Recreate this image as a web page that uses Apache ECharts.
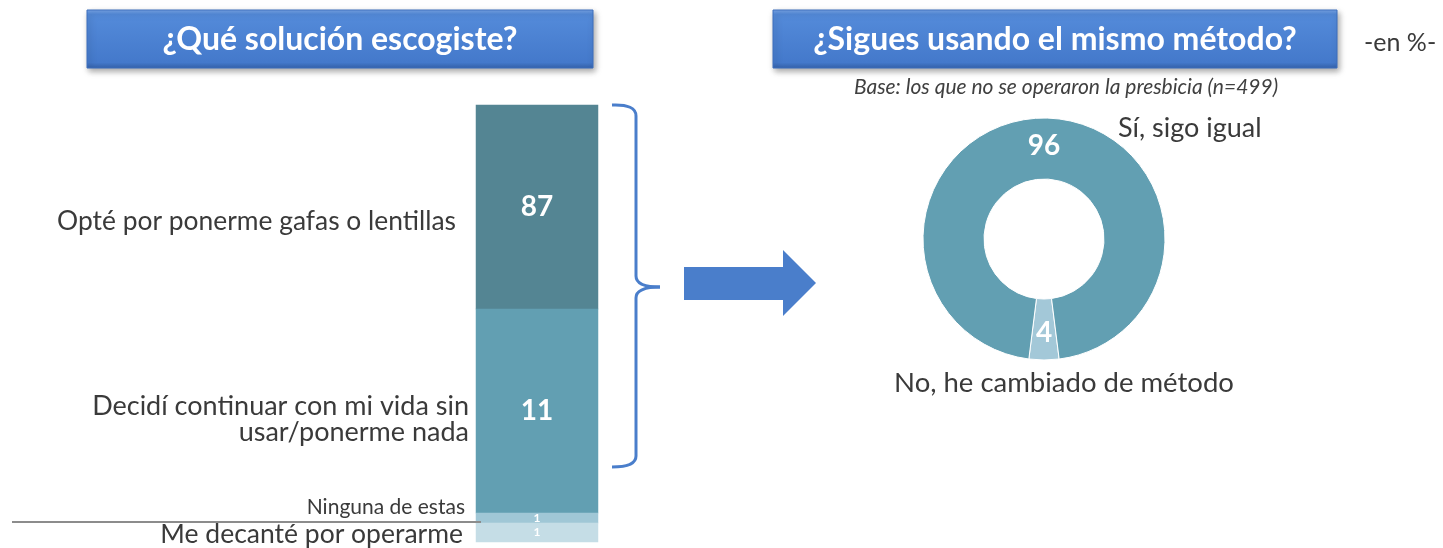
<!DOCTYPE html>
<html>
<head>
<meta charset="utf-8">
<script src="https://cdn.jsdelivr.net/npm/echarts@6/dist/echarts.min.js"></script>
<style>
  html, body { margin: 0; padding: 0; background: #fff; }
  #chart { width: 1443px; height: 548px; }
</style>
</head>
<body>
<div id="chart"></div>
<script>
'use strict';

// ¿Qué solución escogiste?  (stacked column, one segment per answer)
const solCategories = [
    'Opté por ponerme gafas o lentillas',
    'Decidí continuar con mi vida sin\nusar/ponerme nada',
    'Ninguna de estas',
    'Me decanté por operarme'
];
const solValues = [87, 11, 1, 1];

// ¿Sigues usando el mismo método?  (donut)
const methodCategories = ['Sí, sigo igual', 'No, he cambiado de método'];
const methodValues = [96, 4];

const titleTexts = ['¿Qué solución escogiste?', '¿Sigues usando el mismo método?'];
const baseNote = 'Base: los que no se operaron la presbicia (n=499)';
const unitNote = '-en %-';

const FONT = 'Lato, "Open Sans", sans-serif';
const TEXT = '#3a3a3a';
const BLUE = '#4a7ecb';

const solColors = ['#548593', '#629fb2', '#a0c7d6', '#c5dde6'];
const methodColors = ['#629fb2', '#a3c8d8'];

// each segment drawn in its own band; spacer lines nudge the category text up/down
const bands = [
    { top: 105, height: 204, fontSize: 26.4, lineHeight: 28, margin: 20, spaceBefore: 28, spaceAfter: 0, valueSize: 28 },
    { top: 309, height: 204, fontSize: 27, lineHeight: 26, margin: 7, spaceBefore: 16, spaceAfter: 0, valueSize: 28 },
    { top: 513, height: 10, fontSize: 21, lineHeight: 22, margin: 11, spaceBefore: 0, spaceAfter: 22, valueSize: 12 },
    { top: 523, height: 22, fontSize: 26.5, lineHeight: 28, margin: 13, spaceBefore: 4, spaceAfter: 0, valueSize: 12 }
];

const grids = bands.map(b => ({ left: 476, width: 122, top: b.top, height: b.height }));

const xAxes = bands.map((b, i) => ({
    type: 'category', gridIndex: i, data: [''], show: false
}));

const labelText = (b, value) => {
    const lines = value.split('\n').map(l => '{t|' + l + '}');
    if (b.spaceBefore) lines.unshift('{a| }');
    if (b.spaceAfter) lines.push('{b| }');
    return lines.join('\n');
};

const yAxes = bands.map((b, i) => ({
    type: 'category',
    gridIndex: i,
    data: [solCategories[i]],
    axisLine: { show: false },
    axisTick: { show: false },
    splitLine: { show: false },
    axisLabel: {
        margin: b.margin,
        align: 'right',
        formatter: v => labelText(b, v),
        rich: {
            t: { color: TEXT, fontFamily: FONT, fontSize: b.fontSize, lineHeight: b.lineHeight },
            a: { fontSize: 1, lineHeight: b.spaceBefore },
            b: { fontSize: 1, lineHeight: b.spaceAfter }
        }
    }
}));

const barSeries = bands.map((b, i) => ({
    type: 'heatmap',
    xAxisIndex: i,
    yAxisIndex: i,
    data: [{ value: [0, 0, solValues[i]], itemStyle: { color: solColors[i] } }],
    label: {
        show: true,
        formatter: p => p.value[2],
        color: '#fff',
        fontFamily: FONT,
        fontWeight: 'bold',
        fontSize: b.valueSize
    },
    emphasis: { disabled: true }
}));

const donut = {
    type: 'pie',
    center: [1044, 239],
    radius: [60, 121],
    startAngle: 277.2,
    clockwise: true,
    silent: true,
    itemStyle: { borderColor: '#fff', borderWidth: 1 },
    label: {
        show: true,
        position: 'inside',
        formatter: '{c}',
        color: '#fff',
        fontFamily: FONT,
        fontWeight: 'bold',
        fontSize: 28
    },
    labelLine: { show: false },
    // small slice first so it sits centred at the bottom
    data: [
        { name: methodCategories[1], value: methodValues[1], itemStyle: { color: methodColors[1] } },
        { name: methodCategories[0], value: methodValues[0], itemStyle: { color: methodColors[0] } }
    ]
};

const titleBox = (x, w, text) => ({
    type: 'group',
    children: [
        {
            type: 'rect',
            shape: { x: x, y: 10, width: w, height: 58 },
            style: {
                fill: new echarts.graphic.LinearGradient(0, 0, 0, 1, [
                    { offset: 0, color: '#7aa6e6' },
                    { offset: 0.08, color: '#548bda' },
                    { offset: 0.9, color: '#4479cb' },
                    { offset: 1, color: '#3462ab' }
                ]),
                stroke: '#3d6fbd',
                lineWidth: 1,
                shadowBlur: 6,
                shadowOffsetX: 2,
                shadowOffsetY: 3,
                shadowColor: 'rgba(0,0,0,0.35)'
            }
        },
        {
            type: 'text',
            x: x + w / 2,
            y: 40,
            style: {
                text: text,
                fill: '#fff',
                font: 'bold 32px ' + FONT,
                align: 'center',
                verticalAlign: 'middle'
            }
        }
    ]
});

// curly brace pieces
const braceStyle = { stroke: BLUE, lineWidth: 3, fill: null };
const curve = (x1, y1, cpx1, cpy1, x2, y2) => ({
    type: 'bezierCurve', shape: { x1, y1, cpx1, cpy1, x2, y2 }, style: braceStyle
});
const straight = (x1, y1, x2, y2) => ({
    type: 'line', shape: { x1, y1, x2, y2 }, style: braceStyle
});

const chart = echarts.init(document.getElementById('chart'));

chart.setOption({
    animation: false,
    grid: grids,
    xAxis: xAxes,
    yAxis: yAxes,
    series: barSeries.concat([donut]),
    graphic: [
        titleBox(87, 506, titleTexts[0]),
        titleBox(773, 564, titleTexts[1]),
        {
            type: 'text', x: 1364, y: 43,
            style: { text: unitNote, fill: TEXT, font: '25px ' + FONT, verticalAlign: 'middle' }
        },
        {
            type: 'text', x: 1066, y: 87,
            style: { text: baseNote, fill: '#404040', font: 'italic 21px ' + FONT, align: 'center', verticalAlign: 'middle' }
        },
        // separator under "Ninguna de estas"
        {
            type: 'line', z: 10,
            shape: { x1: 12, y1: 522, x2: 481, y2: 522 },
            style: { stroke: '#8c8c8c', lineWidth: 2 }
        },
        // curly brace grouping 87 + 11
        curve(612, 105, 636, 104, 636, 116),
        straight(636, 116, 636, 276),
        curve(636, 276, 636, 287, 660, 287),
        curve(660, 287, 636, 287, 636, 298),
        straight(636, 298, 636, 456),
        curve(636, 456, 636, 467, 612, 467),
        // arrow to the donut
        {
            type: 'polygon',
            shape: { points: [[684, 267], [783, 267], [783, 250], [816, 283], [783, 316], [783, 300], [684, 300]] },
            style: { fill: BLUE }
        },
        {
            type: 'text', x: 1118, y: 128,
            style: { text: methodCategories[0], fill: TEXT, font: '27px ' + FONT, verticalAlign: 'middle' }
        },
        {
            type: 'text', x: 1064, y: 383,
            style: { text: methodCategories[1], fill: TEXT, font: '27.5px ' + FONT, align: 'center', verticalAlign: 'middle' }
        }
    ]
});
</script>
</body>
</html>
